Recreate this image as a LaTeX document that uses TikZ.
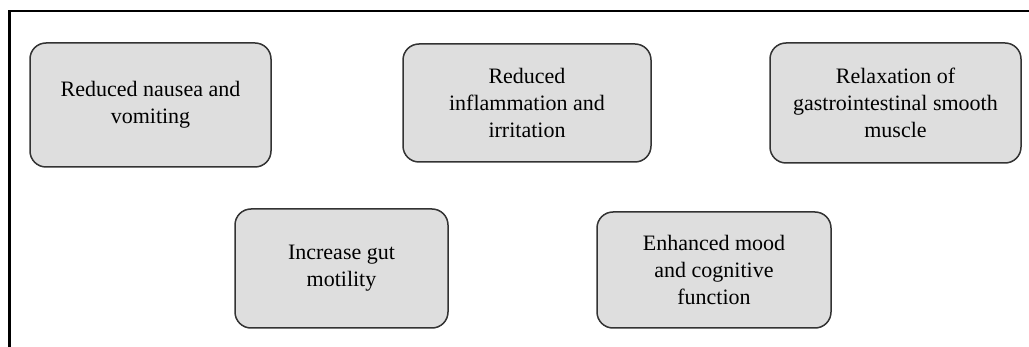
\documentclass[tikz,border=0pt]{standalone}
\usepackage{fontspec}
\setmainfont{Liberation Serif}
\definecolor{boxfill}{HTML}{DEDEDE}
\definecolor{boxline}{HTML}{333333}

\begin{document}
\begin{tikzpicture}[x=1pt, y=-1pt]
    \tikzset{effect/.style={draw=boxline, fill=boxfill, line width=1.5pt,
        rounded corners=16pt, align=center, inner sep=2pt, outer sep=0pt,
        font=\fontsize{22}{27}\selectfont}}
    \useasboundingbox (0,0) rectangle (1029,347);
    % frame
    \draw[line width=1.4pt] (9,11) -- (1029,11);
    \draw[line width=2.4pt] (9.5,10.3) -- (9.5,347);
    % top row
    \node[effect, minimum width=241pt, minimum height=124pt] (nausea) at (150.5,105)
      {Reduced nausea and\\vomiting};
    \node[effect, minimum width=248pt, minimum height=118pt] (inflam) at (527,103)
      {Reduced\\inflammation and\\irritation};
    \node[effect, minimum width=251pt, minimum height=120pt] (relax) at (895.5,103)
      {Relaxation of\\gastrointestinal smooth\\muscle};
    % bottom row
    \node[effect, minimum width=213pt, minimum height=119pt] (motility) at (341.5,268.5)
      {Increase gut\\motility};
    \node[effect, minimum width=234pt, minimum height=116pt] (mood) at (714,270)
      {Enhanced mood\\and cognitive\\function};
\end{tikzpicture}
\end{document}
